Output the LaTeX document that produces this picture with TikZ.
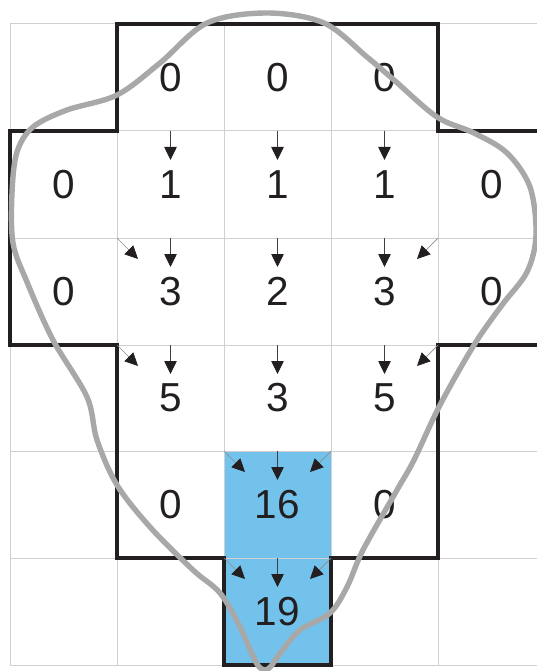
\documentclass[tikz,border=0pt]{standalone}
\usepackage{fontspec}
\setmainfont{Liberation Sans}
\usetikzlibrary{arrows.meta}
\definecolor{gridc}{HTML}{D0D0D0}
\definecolor{cellblue}{HTML}{73C2EB}
\definecolor{blobc}{HTML}{A8A8A8}
\definecolor{outl}{HTML}{231F20}
\tikzset{
  gridline/.style={draw=gridc, line width=1pt},
  outline/.style={draw=outl, line width=3.2pt, line join=miter},
  blobline/.style={draw=blobc, line width=5.4pt, line cap=round, line join=round},
  num/.style={inner sep=0pt, font=\fontsize{40.5}{40.5}\selectfont, text=outl},
  varrow/.style={draw=black!75, line width=0.8pt, -{Triangle[length=13pt,width=12.5pt,color=outl]}},
  darrow/.style={draw=black!45, line width=0.7pt, -{Triangle[length=13pt,width=12.5pt,color=outl]}},
}
\begin{document}
\begin{tikzpicture}[x=1pt,y=-1pt]
\useasboundingbox (0,0) rectangle (537,671);
\clip (0,0) rectangle (537,671);
% blue cells
\fill[cellblue] (224,451) rectangle (331,665);
% grid
\foreach \x in {10,117,224,331,438} \draw[gridline] (\x,24) -- (\x,665);
\foreach \y in {24,131,238,345,451,558,665} \draw[gridline] (10,\y) -- (537,\y);
% outline
\draw[outline] (117,24) -- (438,24) -- (438,131) -- (546,131) -- (546,345) -- (438,345)
  -- (438,558) -- (331,558) -- (331,665) -- (224,665) -- (224,558) -- (117,558)
  -- (117,345) -- (10,345) -- (10,131) -- (117,131) -- cycle;
% numbers
\node[num] (r1c2) at (170.5,77.5) {0};
\node[num] (r1c3) at (277.5,77.5) {0};
\node[num] (r1c4) at (384.5,77.5) {0};
\node[num] (r2c1) at (63.5,184.5) {0};
\node[num] (r2c2) at (170.5,184.5) {1};
\node[num] (r2c3) at (277.5,184.5) {1};
\node[num] (r2c4) at (384.5,184.5) {1};
\node[num] (r2c5) at (491.5,184.5) {0};
\node[num] (r3c1) at (63.5,291.5) {0};
\node[num] (r3c2) at (170.5,291.5) {3};
\node[num] (r3c3) at (277.5,291.5) {2};
\node[num] (r3c4) at (384.5,291.5) {3};
\node[num] (r3c5) at (491.5,291.5) {0};
\node[num] (r4c2) at (170.5,398) {5};
\node[num] (r4c3) at (277.5,398) {3};
\node[num] (r4c4) at (384.5,398) {5};
\node[num] (r5c2) at (170.5,504.5) {0};
\node[num] (r5c3) at (277.5,504.5) {16};
\node[num] (r5c4) at (384.5,504.5) {0};
\node[num] (r6c3) at (277.5,611.5) {19};
% vertical arrows
\foreach \x in {170.5,277.5,384.5}{
  \foreach \y in {131,238,345}{
    \coordinate (vs) at (\x,\y);
    \draw[varrow] (vs) -- ++(0,29);
  }
}
\foreach \y in {451,558}{
  \coordinate (vs) at (277.5,\y);
  \draw[varrow] (vs) -- ++(0,29);
}
% diagonal arrows
\foreach \x/\y in {117/238,117/345,224/451,224/558}{
  \coordinate (ds) at (\x,\y);
  \draw[darrow] (ds) -- ++(21,21);
}
\foreach \x/\y in {438/238,438/345,331/451,331/558}{
  \coordinate (ds) at (\x,\y);
  \draw[darrow] (ds) -- ++(-21,21);
}
% grey blob
\draw[blobline] plot[smooth cycle, tension=0.55] coordinates {
  (267,13) (324,23) (367,57) (394,80) (437,117) (474,133) (507,153) (530,187)
  (536,235) (527,272) (502,305) (474,345) (440,405) (414,460) (397,490)
  (363,550) (347,587) (330,613) (300,630) (281,652) (268,669) (257,664)
  (240,627) (220,593) (193,570) (150,527) (117,485) (97,440) (87,397)
  (53,340) (27,282) (13,243) (12,193) (17,152) (33,127) (67,110) (117,95)
  (160,63) (207,23)};
\end{tikzpicture}
\end{document}
